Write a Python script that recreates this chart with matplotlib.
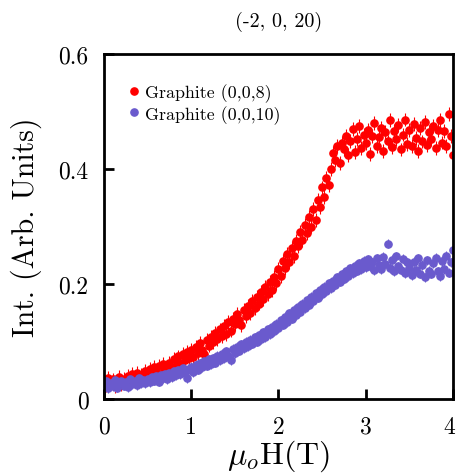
import matplotlib
matplotlib.use("Agg")
import matplotlib.pyplot as plt
import matplotlib.transforms as mtransforms

plt.rcParams['font.family'] = 'cmr10'
plt.rcParams['mathtext.fontset'] = 'cm'
plt.rcParams['axes.unicode_minus'] = False

field = [
    0.000, 0.025, 0.050, 0.075, 0.100, 0.125, 0.150, 0.175, 0.200, 0.225,
    0.250, 0.275, 0.300, 0.325, 0.350, 0.375, 0.400, 0.425, 0.450, 0.475,
    0.500, 0.525, 0.550, 0.575, 0.600, 0.625, 0.650, 0.675, 0.700, 0.725,
    0.750, 0.775, 0.800, 0.825, 0.850, 0.875, 0.900, 0.925, 0.950, 0.975,
    1.000, 1.025, 1.050, 1.075, 1.100, 1.125, 1.150, 1.175, 1.200, 1.225,
    1.250, 1.275, 1.300, 1.325, 1.350, 1.375, 1.400, 1.425, 1.450, 1.475,
    1.500, 1.525, 1.550, 1.575, 1.600, 1.625, 1.650, 1.675, 1.700, 1.725,
    1.750, 1.775, 1.800, 1.825, 1.850, 1.875, 1.900, 1.925, 1.950, 1.975,
    2.000, 2.025, 2.050, 2.075, 2.100, 2.125, 2.150, 2.175, 2.200, 2.225,
    2.250, 2.275, 2.300, 2.325, 2.350, 2.375, 2.400, 2.425, 2.450, 2.475,
    2.500, 2.525, 2.550, 2.575, 2.600, 2.625, 2.650, 2.675, 2.700, 2.725,
    2.750, 2.775, 2.800, 2.825, 2.850, 2.875, 2.900, 2.925, 2.950, 2.975,
    3.000, 3.025, 3.050, 3.075, 3.100, 3.125, 3.150, 3.175, 3.200, 3.225,
    3.250, 3.275, 3.300, 3.325, 3.350, 3.375, 3.400, 3.425, 3.450, 3.475,
    3.500, 3.525, 3.550, 3.575, 3.600, 3.625, 3.650, 3.675, 3.700, 3.725,
    3.750, 3.775, 3.800, 3.825, 3.850, 3.875, 3.900, 3.925, 3.950, 3.975,
    4.000,
]

int_008 = [
    0.030, 0.024, 0.036, 0.027, 0.034, 0.022, 0.031, 0.038, 0.026, 0.035,
    0.029, 0.040, 0.033, 0.044, 0.031, 0.046, 0.037, 0.042, 0.035, 0.049,
    0.041, 0.052, 0.039, 0.055, 0.047, 0.058, 0.044, 0.061, 0.053, 0.049,
    0.063, 0.054, 0.069, 0.058, 0.074, 0.062, 0.078, 0.067, 0.082, 0.071,
    0.085, 0.073, 0.091, 0.080, 0.097, 0.086, 0.079, 0.102, 0.093, 0.108,
    0.099, 0.115, 0.104, 0.121, 0.109, 0.127, 0.113, 0.134, 0.119, 0.140,
    0.131, 0.148, 0.137, 0.129, 0.155, 0.144, 0.162, 0.150, 0.170, 0.158,
    0.178, 0.166, 0.186, 0.174, 0.195, 0.183, 0.204, 0.190, 0.213, 0.201,
    0.226, 0.214, 0.240, 0.228, 0.252, 0.238, 0.262, 0.249, 0.275, 0.266,
    0.290, 0.276, 0.302, 0.288, 0.316, 0.300, 0.330, 0.312, 0.346, 0.334,
    0.368, 0.352, 0.385, 0.372, 0.400, 0.428, 0.415, 0.440, 0.410, 0.446,
    0.434, 0.458, 0.425, 0.449, 0.470, 0.430, 0.452, 0.475, 0.436, 0.460,
    0.445, 0.468, 0.426, 0.458, 0.480, 0.440, 0.455, 0.472, 0.432, 0.464,
    0.448, 0.485, 0.438, 0.466, 0.452, 0.476, 0.434, 0.460, 0.486, 0.444,
    0.468, 0.440, 0.478, 0.454, 0.432, 0.472, 0.448, 0.482, 0.442, 0.464,
    0.452, 0.475, 0.436, 0.468, 0.485, 0.446, 0.466, 0.440, 0.495, 0.458,
    0.425,
]

int_0010 = [
    0.024, 0.031, 0.019, 0.028, 0.022, 0.033, 0.020, 0.027, 0.032, 0.023,
    0.029, 0.021, 0.034, 0.026, 0.031, 0.024, 0.036, 0.028, 0.033, 0.027,
    0.035, 0.029, 0.038, 0.032, 0.040, 0.030, 0.042, 0.036, 0.044, 0.034,
    0.046, 0.038, 0.048, 0.041, 0.051, 0.043, 0.054, 0.047, 0.036, 0.052,
    0.056, 0.047, 0.059, 0.051, 0.062, 0.055, 0.066, 0.058, 0.069, 0.061,
    0.071, 0.063, 0.075, 0.067, 0.079, 0.071, 0.083, 0.075, 0.068, 0.087,
    0.080, 0.091, 0.084, 0.095, 0.088, 0.099, 0.092, 0.103, 0.096, 0.107,
    0.100, 0.111, 0.104, 0.116, 0.108, 0.121, 0.113, 0.126, 0.118, 0.131,
    0.123, 0.137, 0.129, 0.143, 0.134, 0.149, 0.140, 0.155, 0.146, 0.160,
    0.152, 0.166, 0.158, 0.172, 0.164, 0.178, 0.170, 0.184, 0.176, 0.190,
    0.182, 0.195, 0.188, 0.201, 0.193, 0.206, 0.199, 0.212, 0.204, 0.217,
    0.209, 0.222, 0.214, 0.227, 0.219, 0.232, 0.223, 0.236, 0.226, 0.240,
    0.229, 0.243, 0.231, 0.238, 0.224, 0.245, 0.233, 0.226, 0.247, 0.235,
    0.270, 0.228, 0.242, 0.222, 0.248, 0.231, 0.225, 0.244, 0.219, 0.238,
    0.227, 0.215, 0.239, 0.224, 0.245, 0.218, 0.233, 0.212, 0.241, 0.223,
    0.218, 0.236, 0.246, 0.222, 0.214, 0.240, 0.226, 0.249, 0.220, 0.238,
    0.260,
]

err_008 = 0.012
err_0010 = 0.008

labels = ['Graphite (0,0,8)', 'Graphite (0,0,10)']
colors = ['#ff0000', '#6a5acd']
xticks = [0, 1, 2, 3, 4]
xticklabels = ['0', '1', '2', '3', '4']
yticks = [0, 0.2, 0.4, 0.6]
yticklabels = ['0', '0.2', '0.4', '0.6']

fig = plt.figure(figsize=(4.57, 4.77), dpi=100)
ax = fig.add_axes([0.2276, 0.1614, 0.7636, 0.7233])

eb1 = ax.errorbar(field, int_008, yerr=err_008, fmt='o', color=colors[0], ms=5.2,
                  elinewidth=0.8, capsize=0)
eb2 = ax.errorbar(field, int_0010, yerr=err_0010, fmt='o', color=colors[1], ms=5.2,
                  elinewidth=0.8, capsize=0)

ax.set_xlim(0, 4)
ax.set_ylim(0, 0.6)
ax.set_xticks(xticks, xticklabels)
ax.set_yticks(yticks, yticklabels)
ax.tick_params(direction='in', length=7, width=2, labelsize=17)
ax.tick_params(axis='x', pad=12)
ax.tick_params(axis='y', pad=11)
for s in ax.spines.values():
    s.set_linewidth(2)

last = ax.get_xticklabels()[-1]
last.set_horizontalalignment('right')
last.set_transform(last.get_transform() +
                   mtransforms.ScaledTranslation(2 / 100, 0, fig.dpi_scale_trans))

ax.set_xlabel(r'$\mu_o$H(T)', fontsize=23, labelpad=0)
ax.set_ylabel('Int. (Arb. Units)', fontsize=21.5, labelpad=12)
ax.set_title('(-2, 0, 20)', fontsize=14.5, pad=20)

leg = ax.legend([eb1[0], eb2[0]], labels, loc='upper left',
                bbox_to_anchor=(0.04, 0.935), frameon=False,
                fontsize=12.9, handletextpad=0.1, borderaxespad=0, labelspacing=0.15,
                handlelength=1.0)

fig.savefig('out.png', dpi=100)
